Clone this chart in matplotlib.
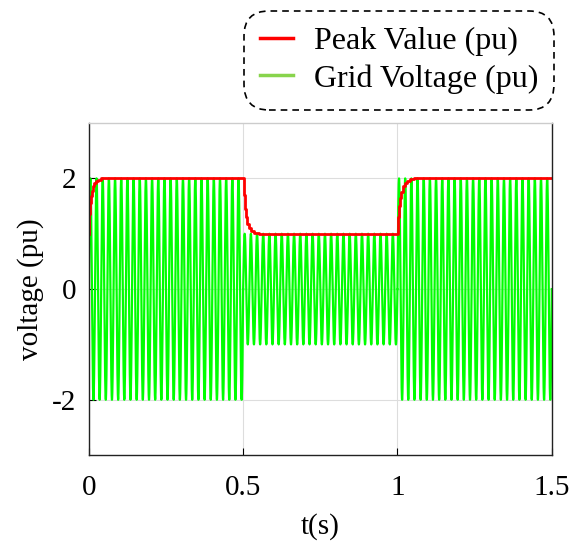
import matplotlib
matplotlib.use('Agg')
import matplotlib.pyplot as plt
import numpy as np
from matplotlib.lines import Line2D

# grid voltage: 50 Hz sine whose amplitude steps 2 -> 1 -> 2
freq_hz = 50
seg_start = [0.0, 0.5, 1.0]
seg_end = [0.5, 1.0, 1.5]
seg_amp = [2.0, 1.0, 2.0]

# peak value estimate
peak_t = [0.0, 0.002, 0.004, 0.006, 0.010, 0.014, 0.018, 0.024, 0.030, 0.040,
          0.050, 0.500, 0.502, 0.505, 0.508, 0.512, 0.518, 0.525, 0.535, 0.550,
          0.570, 1.000, 1.002, 1.005, 1.008, 1.012, 1.018, 1.024, 1.030, 1.040,
          1.055, 1.500]
peak_v = [1.0, 1.35, 1.55, 1.68, 1.78, 1.86, 1.92, 1.96, 1.98, 2.0,
          2.0, 2.0, 1.7, 1.45, 1.3, 1.18, 1.1, 1.05, 1.02, 1.0,
          1.0, 1.0, 1.3, 1.5, 1.65, 1.76, 1.86, 1.92, 1.96, 1.99,
          2.0, 2.0]

x_ticks = [0, 0.5, 1, 1.5]
x_tick_labels = ['0', '0.5', '1', '1.5']
y_ticks = [-2, 0, 2]
y_tick_labels = ['-2', '0', '2']


def main():
    plt.rcParams['font.family'] = ['Liberation Serif', 'DejaVu Serif']
    fig = plt.figure(figsize=(5.73, 5.47), dpi=100)
    ax = fig.add_axes([0.155, 0.168, 0.808, 0.607])

    for t0, t1, a in zip(seg_start, seg_end, seg_amp):
        t = np.linspace(t0, t1, 4000)
        ax.plot(t, a * np.sin(2 * np.pi * freq_hz * t), color='#00ff00', lw=1.6)

    ax.plot(peak_t, peak_v, color='red', lw=2, drawstyle='steps-post')

    ax.set_xlim(0, 1.5)
    ax.set_ylim(-3, 3)
    ax.set_xticks(x_ticks, x_tick_labels)
    ax.set_yticks(y_ticks, y_tick_labels)
    ax.tick_params(direction='in', labelsize=21, length=5,
                   top=False, right=False)
    ax.tick_params(axis='x', pad=14)
    ax.tick_params(axis='y', pad=9)
    ax.grid(True, color='#dddddd', lw=0.8)
    ax.set_axisbelow(True)
    for s in ax.spines.values():
        s.set_color('#222222')
        s.set_linewidth(1)
    ax.spines['top'].set_color('#cccccc')

    ax.set_xlabel('t(s)', fontsize=21, labelpad=9)
    ax.set_ylabel('voltage (pu)', fontsize=21, labelpad=6)

    handles = [Line2D([], [], color='red', lw=2.5),
               Line2D([], [], color='#88d44c', lw=2.5)]
    leg = ax.legend(handles, ['Peak Value (pu)', 'Grid Voltage (pu)'],
                    loc='lower right', bbox_to_anchor=(0.995, 1.055),
                    fontsize=23, handlelength=1.05, handletextpad=0.65,
                    labelspacing=0.25, borderpad=0.35, borderaxespad=0,
                    fancybox=True, framealpha=1)
    fr = leg.get_frame()
    fr.set_boxstyle('round,pad=0.15,rounding_size=0.8')
    fr.set_edgecolor('black')
    fr.set_linestyle((0, (4, 3)))
    fr.set_linewidth(1.2)

    fig.savefig('out.png', dpi=100)


if __name__ == '__main__':
    main()
